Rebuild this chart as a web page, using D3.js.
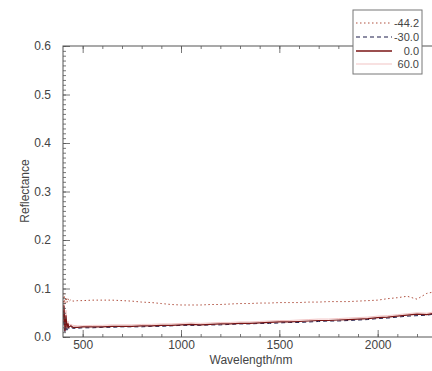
<!DOCTYPE html>
<html><head><meta charset="utf-8">
<script src="https://cdn.jsdelivr.net/npm/d3@7"></script>
<style>body{margin:0;background:#fff}svg{display:block}text{font-family:"Liberation Sans",Arial,sans-serif}</style>
</head><body><svg id="c" width="432" height="371"></svg>
<script>
const wavelengths = [400,405,410,415,420,425,430,440,450,475,500,550,600,650,700,750,800,850,900,950,1000,1050,1100,1150,1200,1250,1300,1350,1400,1450,1500,1550,1600,1650,1700,1750,1800,1850,1900,1950,2000,2050,2100,2150,2200,2250,2300,2350,2400,2450,2500];
const seriesNames = ["-44.2","-30.0","0.0","60.0"];
const sM44 = [0.055,0.090,0.068,0.082,0.071,0.079,0.073,0.077,0.074,0.075,0.075,0.076,0.076,0.076,0.075,0.074,0.072,0.071,0.069,0.067,0.066,0.066,0.066,0.067,0.067,0.068,0.069,0.069,0.070,0.070,0.071,0.071,0.071,0.072,0.072,0.073,0.073,0.073,0.074,0.075,0.076,0.079,0.081,0.084,0.078,0.090,0.094,0.092,0.096,0.094,0.098];
const sM30 = [0.024,0.050,0.009,0.038,0.014,0.024,0.017,0.020,0.018,0.018,0.019,0.019,0.020,0.020,0.021,0.021,0.021,0.022,0.022,0.023,0.024,0.024,0.024,0.025,0.025,0.026,0.027,0.027,0.028,0.028,0.029,0.030,0.030,0.031,0.032,0.033,0.033,0.034,0.035,0.036,0.038,0.039,0.041,0.043,0.044,0.045,0.048,0.047,0.049,0.048,0.050];
const s0 = [0.030,0.065,0.012,0.045,0.018,0.028,0.020,0.023,0.020,0.020,0.021,0.021,0.021,0.022,0.022,0.022,0.023,0.023,0.024,0.024,0.025,0.026,0.025,0.026,0.027,0.027,0.028,0.028,0.029,0.030,0.031,0.031,0.032,0.033,0.034,0.034,0.035,0.036,0.037,0.038,0.040,0.041,0.043,0.045,0.047,0.046,0.050,0.048,0.051,0.049,0.052];
const s60 = [0.036,0.075,0.018,0.055,0.024,0.033,0.025,0.026,0.024,0.023,0.023,0.024,0.024,0.025,0.025,0.025,0.026,0.026,0.027,0.027,0.028,0.029,0.028,0.029,0.030,0.030,0.031,0.031,0.032,0.033,0.034,0.034,0.035,0.036,0.037,0.037,0.038,0.039,0.040,0.041,0.043,0.044,0.046,0.048,0.050,0.049,0.053,0.051,0.054,0.052,0.055];
const xTicks = [500,1000,1500,2000];
const yTicks = [0.0,0.1,0.2,0.3,0.4,0.5,0.6];

const styles = [
  {color:"#b0503f", dash:"1.5,2.5", width:1},
  {color:"#1c1c4a", dash:"4,3", width:1},
  {color:"#7a1515", dash:null, width:1.2},
  {color:"#f2c4c4", dash:null, width:1}
];
const seriesData = [sM44, sM30, s0, s60];

const svg = d3.select("#c");
const L=63, R=476, T=46, B=337;
const x = d3.scaleLinear().domain([400,2500]).range([L,R]);
const y = d3.scaleLinear().domain([0,0.6]).range([B,T]);
const axCol="#555";

svg.append("defs").append("clipPath").attr("id","clip")
  .append("rect").attr("x",L).attr("y",T).attr("width",R-L).attr("height",B-T);

const line = d3.line().x((d,i)=>x(wavelengths[i])).y(d=>y(d));
const gl = svg.append("g").attr("clip-path","url(#clip)");
[3,1,2,0].forEach(k=>{
  gl.append("path").datum(seriesData[k]).attr("d",line)
    .attr("fill","none").attr("stroke",styles[k].color)
    .attr("stroke-width",styles[k].width)
    .attr("stroke-dasharray",styles[k].dash);
});

svg.append("rect").attr("x",L).attr("y",T).attr("width",R-L).attr("height",B-T)
  .attr("fill","none").attr("stroke",axCol).attr("stroke-width",1);

const xMinor = d3.range(500,2501,100);
const xMajor = [500,1000,1500,2000,2500];
const yMinor = d3.range(0,0.601,0.01);
const gB = svg.append("g").attr("transform",`translate(0,${B})`)
  .call(d3.axisBottom(x).tickValues(xMinor).tickSize(-3).tickFormat(""));
const gB1 = svg.append("g").attr("transform",`translate(0,${B})`)
  .call(d3.axisBottom(x).tickValues(xMajor).tickSize(-7).tickFormat(""));
const gB2 = svg.append("g").attr("transform",`translate(0,${B})`)
  .call(d3.axisBottom(x).tickValues(xTicks).tickSize(0).tickPadding(3).tickFormat(d3.format("d")));
const gT = svg.append("g").attr("transform",`translate(0,${T})`)
  .call(d3.axisTop(x).tickValues(xMinor).tickSize(-3).tickFormat(""));
const gT2 = svg.append("g").attr("transform",`translate(0,${T})`)
  .call(d3.axisTop(x).tickValues(xMajor).tickSize(-7).tickFormat(""));
const gL = svg.append("g").attr("transform",`translate(${L},0)`)
  .call(d3.axisLeft(y).tickValues(yMinor).tickSize(-3).tickFormat(""));
const gL2 = svg.append("g").attr("transform",`translate(${L},0)`)
  .call(d3.axisLeft(y).tickValues(yTicks).tickSize(-7).tickPadding(12).tickFormat(d3.format(".1f")));
[gB,gB1,gB2,gT,gT2,gL,gL2].forEach(g=>{
  g.select(".domain").remove();
  g.selectAll("line").attr("stroke",axCol).attr("stroke-width",0.8);
  g.selectAll("text").attr("fill","#444").style("font-size","12px");
});

svg.append("text").attr("x",251).attr("y",364).attr("text-anchor","middle")
  .attr("fill","#444").style("font-size","12px").text("Wavelength/nm");
svg.append("text").attr("transform","translate(29,191) rotate(-90)").attr("text-anchor","middle")
  .attr("fill","#444").style("font-size","12px").text("Reflectance");

const lg = svg.append("g");
lg.append("rect").attr("x",353).attr("y",10).attr("width",69).attr("height",64)
  .attr("fill","#fff").attr("stroke","#777").attr("stroke-width",1);
const rowsY = [27,41,55,68];
seriesNames.forEach((n,i)=>{
  lg.append("line").attr("x1",356).attr("x2",392).attr("y1",rowsY[i]-4).attr("y2",rowsY[i]-4)
    .attr("stroke",styles[i].color).attr("stroke-width",i===2?1.5:1.2).attr("stroke-dasharray",styles[i].dash);
  lg.append("text").attr("x",419).attr("y",rowsY[i]).attr("text-anchor","end")
    .attr("fill","#444").style("font-size","11px").text(n);
});
</script></body></html>
